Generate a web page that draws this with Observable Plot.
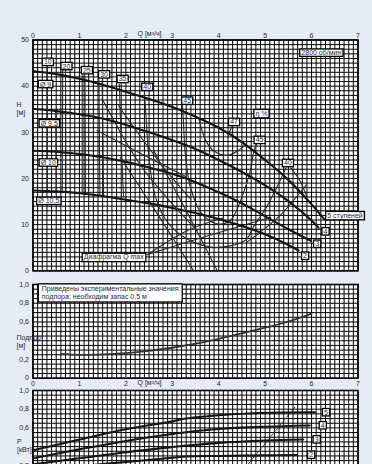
<!DOCTYPE html>
<html><head><meta charset="utf-8">
<script src="https://cdn.jsdelivr.net/npm/d3@7"></script>
<script src="https://cdn.jsdelivr.net/npm/@observablehq/plot@0.6"></script>
<style>
html,body{margin:0;padding:0;background:#e5ecf4;}
#wrap{position:relative;width:372px;height:464px;overflow:hidden;background:#e5ecf4;font-family:"Liberation Sans",Arial,sans-serif;}
#wrap > svg{position:absolute;left:0;}
</style></head>
<body><div id="wrap"></div>
<script>
// ---------- ticks ----------
const qTicks = [0,1,2,3,4,5,6,7];
const hTicks = [0,10,20,30,40,50];
const npshTicks = [0,0.2,0.6,0.8,1.0];
const pTicks = [0.2,0.6,0.8,1.0];
const gridQ = d3.range(0,71).map(i => i/10);
const gridH = d3.range(0,51);
const gridFrac = d3.range(0,21).map(i => i/20);

// ---------- H-Q curves (Q m3/h, H m) ----------
const stage5 = [[0,43.3],[0.5,42.6],[1,41.6],[1.5,40.3],[2,38.8],[2.5,37.2],[3,35.5],[3.5,33.4],[4,31],[4.5,27.9],[5,24],[5.5,19.7],[6,14.4],[6.28,11.1]];
const stage4 = [[0,35.1],[0.5,34.6],[1,33.9],[1.5,33],[2,31.6],[2.5,30],[3,28.3],[3.5,26.4],[4,24],[4.5,21.4],[5,18.5],[5.5,15.1],[6,10.9],[6.15,9.3]];
const stage3 = [[0,26],[0.5,25.8],[1,25.3],[1.5,24.6],[2,23.6],[2.5,22.4],[3,21],[3.5,19.2],[4,17],[4.5,14.6],[5,11.8],[5.5,9],[5.98,6.5]];
const stage2 = [[0,17.4],[0.5,17.2],[1,16.8],[1.5,16.2],[2,15.4],[2.5,14.6],[3,13.6],[3.5,12.5],[4,11.2],[4.5,9.7],[5,7.9],[5.5,5.6],[5.72,4.4]];

// ---------- efficiency / diaphragm lines ----------
const eff10a = [[0.31,44.2],[0.31,17.0]];
const eff10b = [[0.49,35.0],[0.50,17.0]];
const eff20a = [[0.64,43.5],[0.63,16.9]];
const eff20b = [[0.70,43.2],[0.71,16.9]];
const eff25a = [[1.06,42.4],[1.06,16.7]];
const eff25b = [[1.12,42.2],[1.13,16.6]];
const eff30a = [[1.42,41.5],[1.44,16.3]];
const eff30b = [[1.49,41.3],[1.52,16.2]];
const eff35 = [[1.86,40.4],[1.90,28],[1.95,16.0]];
const eff40 = [[2.40,38.6],[2.44,32.5],[2.49,25.3],[2.64,15.9],[2.9,10.5],[3.3,7.0],[3.8,5.2],[4.25,5.4],[4.6,6.8],[4.74,9.4],[5.03,13.8],[5.32,19.5],[5.45,22.3]];
const eff45 = [[3.22,35.8],[3.24,32.5],[3.28,25.3],[3.39,18.1],[3.64,12.3],[3.97,10.2],[4.25,10.9],[4.47,15.2],[4.68,21.7],[4.76,26],[4.82,27.5]];
const eff47 = [[3.57,33.0],[3.72,28.2],[3.89,26],[4.18,25],[4.4,25.9],[4.58,27.4]];
const eff47tick = [[4.28,31.2],[4.2,29.3]];
const eff40b = [[5.55,22.3],[5.75,19.5],[5.9,16]];
const eff40c = [[5.9,18.8],[5.3,11.8],[4.61,6.2]];
const diag1 = [[1.49,37.2],[2.32,22.8],[3.0,14.5],[3.54,8.7]];
const diag2 = [[1.84,35.8],[2.78,22.8],[3.4,15.5]];
const diag3 = [[1.88,24.6],[2.7,12],[3.46,0]];
const diag4 = [[2.6,26],[3.3,13],[3.97,0]];
const diag5 = [[1.38,30.4],[2.3,25.5],[3.31,20.3]];
const diaphragm1 = [[2.46,3.5],[3.32,8.7],[4.1,11.5]];
const diaphragm2 = [[2.46,3.5],[3.54,6.9],[5.12,11.6]];
const thinLines = [eff10a,eff10b,eff20a,eff20b,eff25a,eff25b,eff30a,eff30b,eff35,eff40,eff45,eff47,eff47tick,eff40b,eff40c,diag1,diag2,diag3,diag4,diag5,diaphragm1,diaphragm2];

// ---------- labels in the H-Q chart ----------
const labelText = ["10","20","25","30","35","40","45","47","η %","45","40","2800 об/мин","Ø 9","Ø 9,5","Ø 10","Ø 10,5","Диафрагма Q max","5 ступеней","4","3","2"];
const labelQ    = [0.32,0.72,1.16,1.53,1.93,2.46,3.32,4.33,4.92,4.88,5.49,6.21,0.27,0.35,0.33,0.34,1.74,6.72,6.30,6.12,5.86];
const labelH    = [45.2,44.3,43.4,42.5,41.5,39.8,36.8,32.2,34.1,28.3,23.3,47.2,40.4,31.9,23.4,15.1,2.95,12.0,8.5,5.8,3.2];
const topLabels = labelText.map((t,i) => ({t, q: labelQ[i], h: labelH[i]}));

// ---------- NPSH (Подпор) ----------
const npsh = [[0.6,0.26],[1,0.25],[1.5,0.255],[2,0.268],[2.5,0.292],[3,0.325],[3.5,0.368],[4,0.42],[4.5,0.478],[5,0.54],[5.5,0.605],[6,0.69]];
const npshNote = ["Приведены экспериментальные значения\nподпора; необходим запас 0,5 м"];

// ---------- Power P (кВт) ----------
const p5 = [[0,0.36],[1,0.475],[2,0.585],[3,0.67],[3.3,0.70],[4,0.735],[4.74,0.757],[5.5,0.765],[6.07,0.768]];
const p4 = [[0,0.276],[1,0.37],[2,0.46],[3,0.535],[3.3,0.554],[4,0.588],[5,0.612],[5.96,0.626]];
const p3 = [[0,0.21],[1,0.275],[2,0.34],[3,0.395],[3.3,0.41],[4,0.44],[5,0.465],[5.82,0.476]];
const p2 = [[0,0.14],[1,0.19],[2,0.235],[3,0.28],[3.3,0.294],[4,0.3],[5,0.306],[5.68,0.31]];
const pLimit = [[4.64,0.215],[5.64,0.82]];
const pLabelText = ["5","4","3","2"];
const pLabelQ = [6.31,6.24,6.11,5.99];
const pLabelP = [0.765,0.625,0.475,0.31];
const pLabels = pLabelText.map((t,i)=>({t,q:pLabelQ[i],p:pLabelP[i]}));

const INK = "#1e2440";
const FONT = "Liberation Sans, Arial, sans-serif";
const fmt = d => d === 0 ? "0" : d.toFixed(1).replace(".", ",");
const fmtInt = d => String(d);
const baseStyle = {background:"transparent", fontFamily:FONT, fontSize:"7px", color:INK, overflow:"visible"};

function gridMarks(yGrid){
  return [
    Plot.frame({fill:"white", stroke:"none"}),
    Plot.ruleX(gridQ, {stroke:"#000", strokeWidth:1}),
    Plot.ruleY(yGrid, {stroke:"#000", strokeWidth:1}),
    Plot.frame({stroke:"#000", strokeWidth:1.6})
  ];
}
const thick = d => Plot.line(d, {stroke:"#141414", strokeWidth:2.1, curve:"catmull-rom"});
const thin = d => Plot.line(d, {stroke:"#2a2a2a", strokeWidth:1.1, curve:"catmull-rom"});

// ---------- top chart ----------
const topChart = Plot.plot({
  width:372, height:275,
  marginTop:39.5, marginLeft:32.5, marginRight:14.5, marginBottom:4.7,
  style: baseStyle,
  x:{domain:[0,7], ticks:qTicks, tickFormat:fmtInt, axis:"top", tickSize:0, tickPadding:2.5, label:null},
  y:{domain:[0,50], ticks:hTicks, tickFormat:fmtInt, tickSize:0, tickPadding:4, label:null},
  marks:[
    ...gridMarks(gridH),
    ...thinLines.map(thin),
    thick(stage5), thick(stage4), thick(stage3), thick(stage2),
    Plot.text(topLabels, {x:"q", y:"h", text:"t", fontSize:7, fill:INK, ariaDescription:"box"}),
    Plot.text(["Q [м³/ч]"], {x:2.51, frameAnchor:"top", dy:-8.7, fontSize:7, fill:INK}),
    Plot.text(["H"], {y:36.0, frameAnchor:"left", dx:-16.5, fontSize:7, fill:INK}),
    Plot.text(["[м]"], {y:34.2, frameAnchor:"left", dx:-16.5, fontSize:7, fill:INK})
  ]
});
topChart.style.top = "0px";

// ---------- NPSH chart ----------
const midChart = Plot.plot({
  width:372, height:114,
  marginTop:6, marginLeft:32.5, marginRight:14.5, marginBottom:14.3,
  style: baseStyle,
  x:{domain:[0,7], ticks:qTicks, tickFormat:fmtInt, tickSize:0, tickPadding:2.5, label:null},
  y:{domain:[0,1], ticks:npshTicks, tickFormat:fmt, tickSize:0, tickPadding:4, label:null},
  marks:[
    ...gridMarks(gridFrac),
    Plot.line(npsh, {stroke:"#333", strokeWidth:1.8, curve:"catmull-rom"}),
    Plot.text(npshNote, {x:0.19, y:0.915, text:d=>d, textAnchor:"start", lineAnchor:"middle", lineHeight:1.1, fontSize:7, fill:INK, ariaDescription:"note"}),
    Plot.text(["Q [м³/ч]"], {x:2.51, frameAnchor:"bottom", dy:6.3, fontSize:7, fill:INK}),
    Plot.text(["Подпор"], {y:0.434, frameAnchor:"left", dx:-16.5, fontSize:7, fill:INK}),
    Plot.text(["[м]"], {y:0.35, frameAnchor:"left", dx:-16.5, fontSize:7, fill:INK})
  ]
});
midChart.style.top = "278px";

// ---------- power chart ----------
const botChart = Plot.plot({
  width:372, height:107.5,
  marginTop:4, marginLeft:32.5, marginRight:14.5, marginBottom:10,
  style: baseStyle,
  x:{domain:[0,7], axis:null},
  y:{domain:[0,1], ticks:pTicks, tickFormat:fmt, tickSize:0, tickPadding:4, label:null},
  marks:[
    ...gridMarks(gridFrac),
    Plot.line(pLimit, {stroke:"#222", strokeWidth:1, strokeDasharray:"2,1.6"}),
    thick(p5), thick(p4), thick(p3), thick(p2),
    Plot.text(pLabels, {x:"q", y:"p", text:"t", fontSize:7, fill:INK, ariaDescription:"box"}),
    Plot.text(["P"], {y:0.455, frameAnchor:"left", dx:-16, fontSize:7, fill:INK}),
    Plot.text(["[кВт]"], {y:0.37, frameAnchor:"left", dx:-16, fontSize:7, fill:INK})
  ]
});
botChart.style.top = "386px";

const wrap = document.getElementById("wrap");
wrap.append(topChart, midChart, botChart);

function addBoxes(svg, desc, px, py){
  svg.querySelectorAll('g[aria-description="' + desc + '"] text').forEach(t => {
    const b = t.getBBox();
    const r = document.createElementNS("http://www.w3.org/2000/svg", "rect");
    r.setAttribute("x", b.x - px);
    r.setAttribute("y", b.y - py);
    r.setAttribute("width", b.width + 2*px);
    r.setAttribute("height", b.height + 2*py);
    r.setAttribute("fill", "white");
    r.setAttribute("stroke", "#000");
    r.setAttribute("stroke-width", "1.3");
    const tr = t.getAttribute("transform");
    if (tr) r.setAttribute("transform", tr);
    t.parentNode.insertBefore(r, t);
  });
}
[topChart, botChart].forEach(s => addBoxes(s, "box", 1.6, 0.2));
addBoxes(midChart, "note", 3.5, 1.2);
</script>
</body></html>
